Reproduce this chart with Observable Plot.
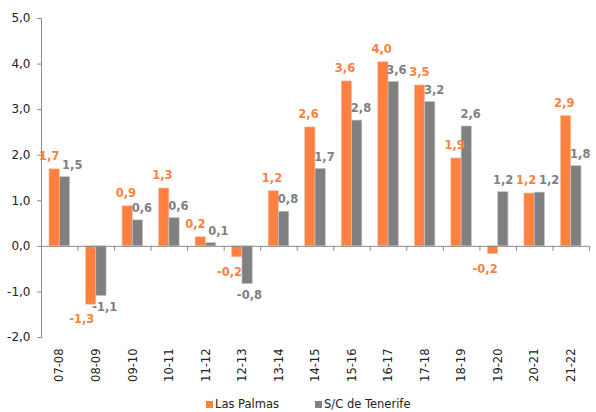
<!DOCTYPE html>
<html>
<head>
<meta charset="utf-8">
<script src="https://cdn.jsdelivr.net/npm/d3@7"></script>
<script src="https://cdn.jsdelivr.net/npm/@observablehq/plot@0.6"></script>
<style>
  html, body { margin: 0; padding: 0; background: #fff; }
  #chart svg { display: block; }
  .legend { display: flex; align-items: center; height: 16px; margin-left: 206px;
    font: 11.5px "DejaVu Sans", Verdana, sans-serif; color: #222; }
  .legend span.sw { display: inline-block; width: 7px; height: 7px; margin-right: 2px; }
  .legend .item { display: flex; align-items: center; margin-right: 36px; }
</style>
</head>
<body>
<div id="chart"></div>
<script>
const periods = ["07-08","08-09","09-10","10-11","11-12","12-13","13-14","14-15","15-16","16-17","17-18","18-19","19-20","20-21","21-22"];
const lasPalmas = [1.69, -1.28, 0.88, 1.27, 0.20, -0.24, 1.21, 2.61, 3.62, 4.04, 3.53, 1.93, -0.17, 1.16, 2.86];
const tenerife  = [1.52, -1.09, 0.57, 0.62, 0.07, -0.83, 0.76, 1.70, 2.76, 3.61, 3.17, 2.63, 1.19, 1.18, 1.76];
const seriesNames = ["Las Palmas", "S/C de Tenerife"];
const seriesColors = ["#FF8040", "#808080"];
const yTicks = [-2, -1, 0, 1, 2, 3, 4, 5];

const fmt = v => d3.format(".1f")(v).replace(".", ",").replace("−", "-");
const lp = periods.map((p, i) => ({period: p, value: lasPalmas[i], s: 0}));
const tf = periods.map((p, i) => ({period: p, value: tenerife[i], s: 1}));
const labels = lp.concat(tf);

const W = 596, H = 396, mL = 41, mR = 7, mT = 18, mB = 59;
const bw = (W - mL - mR) / periods.length;
const barW = 10.3, outer = (bw - 2 * barW) / 2;
const font = '"DejaVu Sans", Verdana, sans-serif';

// label offsets per series [above, below], then a simple collision dodge
const offX = [[-7, -13], [9, 7]];
const offY = [[-13, 15], [-12, 11]];
function dodgeLabels(index, scales, values, dims, ctx, next) {
  const half = scales.x && scales.x.bandwidth ? scales.x.bandwidth() / 2 : bw / 2;
  const pts = Array.from(index, i => {
    const d = labels[i], k = d.value < 0 ? 1 : 0;
    return {i, x: values.x[i] + half + offX[d.s][k], y: values.y[i] + offY[d.s][k]};
  });
  const gapX = 23, gapY = 13;
  for (let it = 0; it < 40; it++) {
    for (let a = 0; a < pts.length; a++) for (let b = a + 1; b < pts.length; b++) {
      const p = pts[a], q = pts[b];
      if (Math.abs(p.y - q.y) >= gapY) continue;
      const d = q.x - p.x, ad = Math.abs(d);
      if (ad >= gapX) continue;
      const push = (gapX - ad) / 2 * (d >= 0 ? 1 : -1);
      p.x -= push; q.x += push;
    }
  }
  const X = Array.from(values.x), Y = Array.from(values.y);
  for (const p of pts) { X[p.i] = p.x - half; Y[p.i] = p.y; }
  return next(index, scales, {...values, x: X, y: Y}, dims, ctx);
}

const chart = Plot.plot({
  width: W, height: H,
  marginLeft: mL, marginRight: mR, marginTop: mT, marginBottom: mB,
  style: {fontFamily: font, background: "#fff"},
  x: {domain: periods, padding: 0, round: false},
  y: {domain: [-2, 5]},
  color: {type: "identity"},
  marks: [
    Plot.barY(lp, {x: "period", y: "value", fill: seriesColors[0], stroke: "#f3c3a8", strokeWidth: 0.6,
      insetLeft: outer, insetRight: outer + barW}),
    Plot.barY(tf, {x: "period", y: "value", fill: seriesColors[1], stroke: "#c8c8c8", strokeWidth: 0.6,
      insetLeft: outer + barW, insetRight: outer}),
    Plot.ruleY([0], {stroke: "#8c8c8c", strokeWidth: 1}),
    Plot.ruleX(periods, {x: d => d, y1: 0, y2: 0, insetBottom: -5, dx: -bw / 2, stroke: "#8c8c8c"}),
    Plot.ruleX(periods.slice(-1), {x: d => d, y1: 0, y2: 0, insetBottom: -5, dx: bw / 2, stroke: "#8c8c8c"}),
    Plot.frame({anchor: "left", stroke: "#8c8c8c"}),
    Plot.axisY({ticks: yTicks, tickFormat: fmt, tickSize: 4, tickPadding: 7, stroke: "#8c8c8c",
      color: "#222", fontSize: 12, label: null}),
    Plot.axisX({tickRotate: -90, tickSize: 0, tickPadding: 11, fontSize: 11.5, color: "#222", label: null}),
    Plot.text(labels, {x: "period", y: "value", text: d => fmt(d.value),
      fill: d => seriesColors[d.s], fontWeight: "bold", fontSize: 11.5, render: dodgeLabels})
  ]
});
document.getElementById("chart").appendChild(chart);

const legend = document.createElement("div");
legend.className = "legend";
seriesNames.forEach((n, i) => {
  const it = document.createElement("div");
  it.className = "item";
  const sw = document.createElement("span");
  sw.className = "sw";
  sw.style.background = seriesColors[i];
  it.appendChild(sw);
  it.appendChild(document.createTextNode(n));
  legend.appendChild(it);
});
document.getElementById("chart").appendChild(legend);
</script>
</body>
</html>
